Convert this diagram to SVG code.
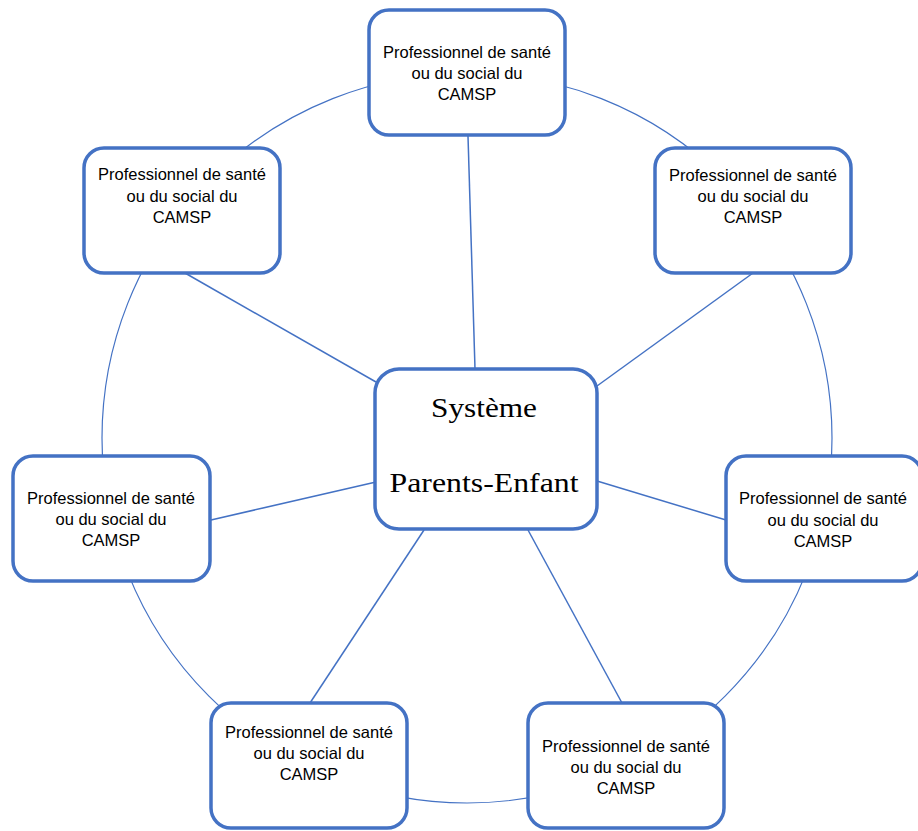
<svg xmlns="http://www.w3.org/2000/svg" width="918" height="831" viewBox="0 0 918 831">
<style>
.box{fill:#fff;stroke:#4472C4;stroke-width:3.5}
.conn{stroke:#4472C4;stroke-width:1.5;fill:none}
.ring{stroke:#4472C4;stroke-width:1.2;fill:none}
.lbl{font-family:"Liberation Sans",Arial,sans-serif;font-size:16.5px;fill:#000;text-anchor:middle}
.main{font-family:"Liberation Serif","Times New Roman",serif;font-size:28px;fill:#000;text-anchor:middle}
</style>
<rect width="918" height="831" fill="#fff"/>
<g id="connectors">
<circle class="ring" cx="467" cy="438" r="365"/>
<line class="conn" x1="468" y1="136" x2="475" y2="369"/>
<line class="conn" x1="185" y1="273" x2="376" y2="382"/>
<line class="conn" x1="753" y1="273" x2="597" y2="386"/>
<line class="conn" x1="211" y1="520" x2="376" y2="482"/>
<line class="conn" x1="597" y1="481" x2="726" y2="520"/>
<line class="conn" x1="310" y1="703" x2="424" y2="530"/>
<line class="conn" x1="528" y1="530" x2="622" y2="703"/>
</g>
<g id="center">
<rect class="box" x="375" y="369" width="222" height="160" rx="24"/>
<text class="main" x="484" y="417" textLength="106" lengthAdjust="spacingAndGlyphs">Système</text>
<text class="main" x="484" y="492" textLength="189" lengthAdjust="spacingAndGlyphs">Parents-Enfant</text>
</g>
<g id="n-top">
<rect class="box" x="369" y="10" width="196" height="125" rx="20"/>
<text class="lbl" x="467" y="58">Professionnel de santé</text>
<text class="lbl" x="467" y="79">ou du social du</text>
<text class="lbl" x="467" y="100">CAMSP</text>
</g>
<g id="n-topleft">
<rect class="box" x="84" y="148" width="196" height="125" rx="20"/>
<text class="lbl" x="182" y="180">Professionnel de santé</text>
<text class="lbl" x="182" y="201.5">ou du social du</text>
<text class="lbl" x="182" y="223">CAMSP</text>
</g>
<g id="n-topright">
<rect class="box" x="655" y="148" width="196" height="125" rx="20"/>
<text class="lbl" x="753" y="181">Professionnel de santé</text>
<text class="lbl" x="753" y="202">ou du social du</text>
<text class="lbl" x="753" y="223">CAMSP</text>
</g>
<g id="n-left">
<rect class="box" x="13" y="456" width="197" height="125" rx="20"/>
<text class="lbl" x="111" y="504">Professionnel de santé</text>
<text class="lbl" x="111" y="525">ou du social du</text>
<text class="lbl" x="111" y="546">CAMSP</text>
</g>
<g id="n-right">
<rect class="box" x="726" y="456" width="196" height="125" rx="20"/>
<text class="lbl" x="823" y="504">Professionnel de santé</text>
<text class="lbl" x="823" y="525.5">ou du social du</text>
<text class="lbl" x="823" y="547">CAMSP</text>
</g>
<g id="n-bottomleft">
<rect class="box" x="211" y="703" width="196" height="125" rx="20"/>
<text class="lbl" x="309" y="738">Professionnel de santé</text>
<text class="lbl" x="309" y="759">ou du social du</text>
<text class="lbl" x="309" y="780">CAMSP</text>
</g>
<g id="n-bottomright">
<rect class="box" x="528" y="703" width="196" height="125" rx="20"/>
<text class="lbl" x="626" y="752">Professionnel de santé</text>
<text class="lbl" x="626" y="773">ou du social du</text>
<text class="lbl" x="626" y="794">CAMSP</text>
</g>
</svg>
